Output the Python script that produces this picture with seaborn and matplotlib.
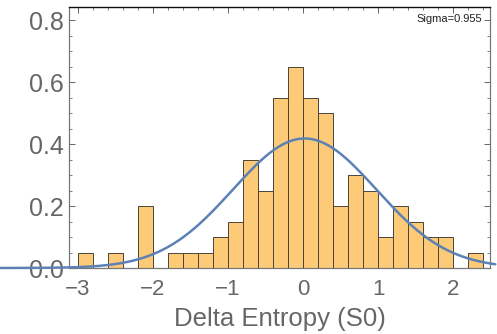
import numpy as np
import pandas as pd
import matplotlib
matplotlib.use("Agg")
import matplotlib.pyplot as plt
import seaborn as sns
from matplotlib.ticker import MultipleLocator

# --- data ---
bin_left_edges = [-3.0, -2.8, -2.6, -2.4, -2.2, -2.0, -1.8, -1.6, -1.4, -1.2,
                  -1.0, -0.8, -0.6, -0.4, -0.2, 0.0, 0.2, 0.4, 0.6, 0.8,
                  1.0, 1.2, 1.4, 1.6, 1.8, 2.0, 2.2]
densities = [0.05, 0.0, 0.05, 0.0, 0.2, 0.0, 0.05, 0.05, 0.05, 0.1,
             0.15, 0.35, 0.25, 0.55, 0.65, 0.55, 0.5, 0.2, 0.3, 0.25,
             0.1, 0.2, 0.15, 0.1, 0.1, 0.0, 0.05]
bin_width = 0.2
fit_mean = 0.02
fit_sigma = 0.955
x_label = "Delta Entropy (S0)"
annotation = "Sigma=0.955"
y_ticks = [0.0, 0.2, 0.4, 0.6, 0.8]
x_ticks = [-3, -2, -1, 0, 1, 2]

sns.set_style("white")
plt.rcParams['font.family'] = ['Liberation Sans', 'DejaVu Sans']

fig = plt.figure(figsize=(4.97, 3.34), dpi=100)
ax = fig.add_axes([69/497, 1-268/334, (490-69)/497, (268-7)/334])

centers = [e + bin_width / 2 for e in bin_left_edges]
df = pd.DataFrame({"x": centers, "w": densities})
sns.histplot(data=df, x="x", weights="w", binwidth=bin_width,
             binrange=(bin_left_edges[0], bin_left_edges[-1] + bin_width),
             stat="count", color="#FDCB78", alpha=1.0, edgecolor="#4a4438",
             linewidth=0.7, ax=ax, zorder=2)

xs = np.linspace(-4.05, 2.56, 400)
pdf = np.exp(-0.5 * ((xs - fit_mean) / fit_sigma) ** 2) / (fit_sigma * np.sqrt(2 * np.pi))
curve = pd.DataFrame({"x": xs, "y": pdf})
sns.lineplot(data=curve, x="x", y="y", color="#5E81B5", linewidth=1.8, ax=ax,
             zorder=3, clip_on=False)

ax.set_xlim(-3.12, 2.49)
ax.set_ylim(0, 0.842)
ax.set_xticks(x_ticks)
ax.set_xticklabels([str(t).replace("-", "\u2212") for t in x_ticks])
ax.set_yticks(y_ticks)
ax.set_yticklabels([f"{t:.1f}" for t in y_ticks])
ax.xaxis.set_minor_locator(MultipleLocator(0.2))
ax.yaxis.set_minor_locator(MultipleLocator(0.05))
ax.tick_params(axis="both", which="both", direction="in", top=True, right=True,
               bottom=True, left=True, color="#666666")
ax.tick_params(axis="both", which="major", length=4, width=0.7)
ax.tick_params(axis="both", which="minor", length=2, width=0.6)
ax.tick_params(axis="y", labelsize=18, labelcolor="#666666", pad=4)
ax.tick_params(axis="x", labelsize=16, labelcolor="#666666", pad=8)
ax.set_xlabel(x_label, fontsize=18.5, color="#666666", labelpad=5)
ax.set_ylabel("")

for s in ["left", "right", "bottom"]:
    ax.spines[s].set_color("#777777")
    ax.spines[s].set_linewidth(0.9)
ax.spines["top"].set_color("#111111")
ax.spines["top"].set_linewidth(1.0)

ax.text(0.981, 0.954, annotation, transform=ax.transAxes, ha="right", va="center",
        fontsize=8, color="#222222")

fig.savefig("out.png", dpi=100)
